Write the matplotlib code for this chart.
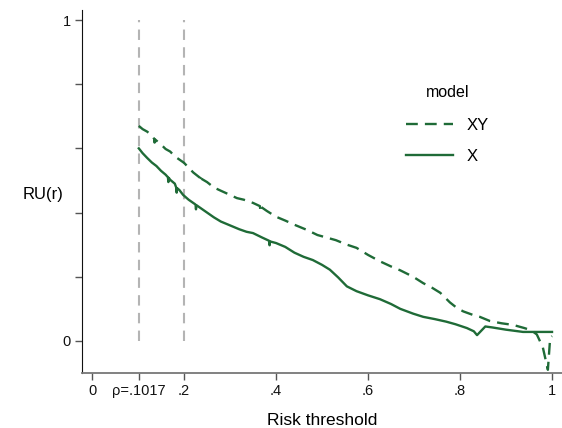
import matplotlib
matplotlib.use("Agg")
import matplotlib.pyplot as plt

plt.rcParams['font.family'] = ['Liberation Sans', 'DejaVu Sans']

# relative utility curves, read at the threshold points
thr_xy = [0.1017, 0.110, 0.120, 0.130, 0.135, 0.136, 0.137, 0.145, 0.155, 0.160,
          0.170, 0.180, 0.190, 0.200, 0.210, 0.220, 0.235, 0.236, 0.237, 0.250,
          0.265, 0.280, 0.300, 0.315, 0.330, 0.350, 0.365, 0.366, 0.367, 0.380,
          0.400, 0.420, 0.440, 0.467, 0.490, 0.510, 0.530, 0.554, 0.575, 0.600,
          0.626, 0.650, 0.670, 0.698, 0.720, 0.740, 0.757, 0.778, 0.793, 0.807,
          0.830, 0.843, 0.865, 0.890, 0.915, 0.940, 0.955, 0.967, 0.980, 0.991,
          0.996, 1.000]
ru_xy = [0.670, 0.660, 0.652, 0.640, 0.630, 0.618, 0.628, 0.618, 0.605, 0.598,
         0.590, 0.575, 0.565, 0.555, 0.540, 0.525, 0.508, 0.495, 0.506, 0.495,
         0.478, 0.468, 0.455, 0.445, 0.440, 0.430, 0.420, 0.405, 0.418, 0.405,
         0.387, 0.375, 0.362, 0.346, 0.330, 0.322, 0.314, 0.300, 0.290, 0.268,
         0.248, 0.232, 0.220, 0.200, 0.180, 0.165, 0.150, 0.120, 0.103, 0.092,
         0.080, 0.075, 0.062, 0.055, 0.050, 0.040, 0.033, 0.020, -0.020, -0.090,
         0.010, 0.015]

thr_x = [0.1017, 0.110, 0.120, 0.130, 0.140, 0.150, 0.160, 0.165, 0.166, 0.167,
         0.170, 0.180, 0.183, 0.184, 0.185, 0.190, 0.198, 0.210, 0.225, 0.226,
         0.227, 0.240, 0.250, 0.265, 0.280, 0.300, 0.320, 0.336, 0.350, 0.370,
         0.385, 0.386, 0.387, 0.400, 0.420, 0.440, 0.460, 0.480, 0.500, 0.517,
         0.535, 0.554, 0.575, 0.600, 0.626, 0.650, 0.670, 0.698, 0.720, 0.745,
         0.770, 0.790, 0.815, 0.830, 0.837, 0.845, 0.855, 0.870, 0.900, 0.937,
         1.000]
ru_x = [0.600, 0.585, 0.570, 0.556, 0.545, 0.530, 0.518, 0.510, 0.495, 0.508,
        0.502, 0.490, 0.478, 0.462, 0.476, 0.470, 0.455, 0.440, 0.425, 0.410,
        0.423, 0.410, 0.400, 0.385, 0.372, 0.360, 0.348, 0.340, 0.336, 0.322,
        0.312, 0.298, 0.310, 0.305, 0.293, 0.275, 0.262, 0.252, 0.237, 0.222,
        0.198, 0.170, 0.155, 0.142, 0.130, 0.115, 0.100, 0.085, 0.075, 0.068,
        0.060, 0.052, 0.040, 0.030, 0.018, 0.030, 0.045, 0.042, 0.035, 0.028,
        0.028]

rho = 0.1017
x_ticks = [0, rho, 0.2, 0.4, 0.6, 0.8, 1]
x_ticklabels = ['0', 'ρ=.1017', '.2', '.4', '.6', '.8', '1']
y_ticks = [0, 0.2, 0.4, 0.6, 0.8, 1]
y_ticklabels = ['0', '', '', '', '', '1']

green = '#1f6b37'

fig = plt.figure(figsize=(5.62, 4.28), dpi=100)
ax = fig.add_axes([0.1454, 0.1285, 0.8546, 0.848])

for xv in [rho, 0.2]:
    ax.plot([xv, xv], [0, 1], color='#b4b4b4', lw=1.5, dashes=(5, 3.5), zorder=1)

ax.plot(thr_xy, ru_xy, color=green, lw=1.7, dashes=(5, 3), label='XY', zorder=3)
ax.plot(thr_x, ru_x, color=green, lw=1.7, label='X', zorder=3)

ax.set_xlim(-0.0224, 1.0217)
ax.set_ylim(-0.1, 1.031)
ax.set_xticks(x_ticks)
ax.set_xticklabels(x_ticklabels)
ax.set_yticks(y_ticks)
ax.set_yticklabels(y_ticklabels)
ax.tick_params(axis='both', length=5, width=1, pad=3, labelsize=10.5,
               colors='#555555', labelcolor='#111111')

for s in ['top', 'right']:
    ax.spines[s].set_visible(False)
ax.spines['left'].set_color('#111111')
ax.spines['bottom'].set_color('#777777')
ax.spines['bottom'].set_linewidth(1.3)

ax.set_xlabel('Risk threshold', fontsize=12.5, labelpad=11)
ax.set_ylabel('RU(r)', fontsize=12, rotation=0, ha='center', va='center')
ax.yaxis.set_label_coords(-0.0805, 0.493)

leg = ax.legend(title='model', frameon=False, loc='upper left',
                bbox_to_anchor=(0.645, 0.835), fontsize=12, title_fontsize=11.5,
                handlelength=2.8, handletextpad=0.8, labelspacing=0.95)
leg._legend_box.sep = 13

fig.savefig('out.png', dpi=100)
